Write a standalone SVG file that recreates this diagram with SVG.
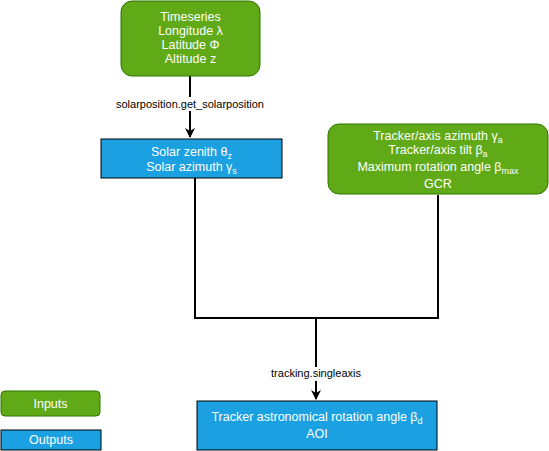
<svg xmlns="http://www.w3.org/2000/svg" width="549" height="451" viewBox="0 0 549 451">
<style>
.in{fill:#60a917;stroke:#2d7600;stroke-width:1}
.out{fill:#1ba1e2;stroke:#000;stroke-width:1}
.t{font-family:"Liberation Sans",Arial,sans-serif;font-size:12.5px;fill:#fff;text-anchor:middle}
.lbl{font-family:"Liberation Sans",Arial,sans-serif;font-size:11px;fill:#000;text-anchor:middle}
.sub{font-size:9px}
.c{fill:none;stroke:#000;stroke-width:2}
</style>
<defs>
<marker id="arr" viewBox="0 0 10 10" refX="9" refY="5" markerWidth="5" markerHeight="5" orient="auto" markerUnits="strokeWidth">
<path d="M0,0 L10,5 L0,10 L3,5 Z" fill="#000"/>
</marker>
</defs>
<rect width="549" height="451" fill="#fff"/>
<g id="connectors">
<path class="c" d="M190,76 V137" marker-end="url(#arr)"/>
<rect x="118" y="97" width="144" height="14" fill="#fff"/>
<text class="lbl" x="190" y="108">solarposition.get_solarposition</text>
<path class="c" d="M195,178 V318 H438 V195"/>
<path class="c" d="M316,318 V399" marker-end="url(#arr)"/>
<rect x="268" y="367" width="96" height="14" fill="#fff"/>
<text class="lbl" x="316" y="377">tracking.singleaxis</text>
</g>
<g id="inputs-main">
<rect class="in" x="121" y="1" width="139" height="75" rx="11"/>
<text class="t" x="190.5" y="21">Timeseries</text>
<text class="t" x="190.5" y="35">Longitude λ</text>
<text class="t" x="190.5" y="49">Latitude Φ</text>
<text class="t" x="190.5" y="63">Altitude z</text>
</g>
<g id="solar-output">
<rect class="out" x="101" y="139" width="181" height="39"/>
<text class="t" x="191.5" y="156">Solar zenith θ<tspan class="sub" dy="3">z</tspan></text>
<text class="t" x="191.5" y="171">Solar azimuth γ<tspan class="sub" dy="3">s</tspan></text>
</g>
<g id="tracker-inputs">
<rect class="in" x="328" y="124" width="220" height="70" rx="11"/>
<text class="t" x="438" y="140">Tracker/axis azimuth γ<tspan class="sub" dy="3">a</tspan></text>
<text class="t" x="438" y="154">Tracker/axis tilt β<tspan class="sub" dy="3">a</tspan></text>
<text class="t" x="438" y="171">Maximum rotation angle β<tspan class="sub" dy="3">max</tspan></text>
<text class="t" x="438" y="188">GCR</text>
</g>
<g id="tracker-output">
<rect class="out" x="197" y="401" width="240" height="49"/>
<text class="t" x="317" y="421">Tracker astronomical rotation angle β<tspan class="sub" dy="3">d</tspan></text>
<text class="t" x="317" y="438">AOI</text>
</g>
<g id="legend-inputs">
<rect class="in" x="1" y="391" width="99" height="25" rx="4"/>
<text class="t" x="50.5" y="408">Inputs</text>
</g>
<g id="legend-outputs">
<rect class="out" x="1" y="430" width="100" height="20"/>
<text class="t" x="51" y="444">Outputs</text>
</g>
</svg>
